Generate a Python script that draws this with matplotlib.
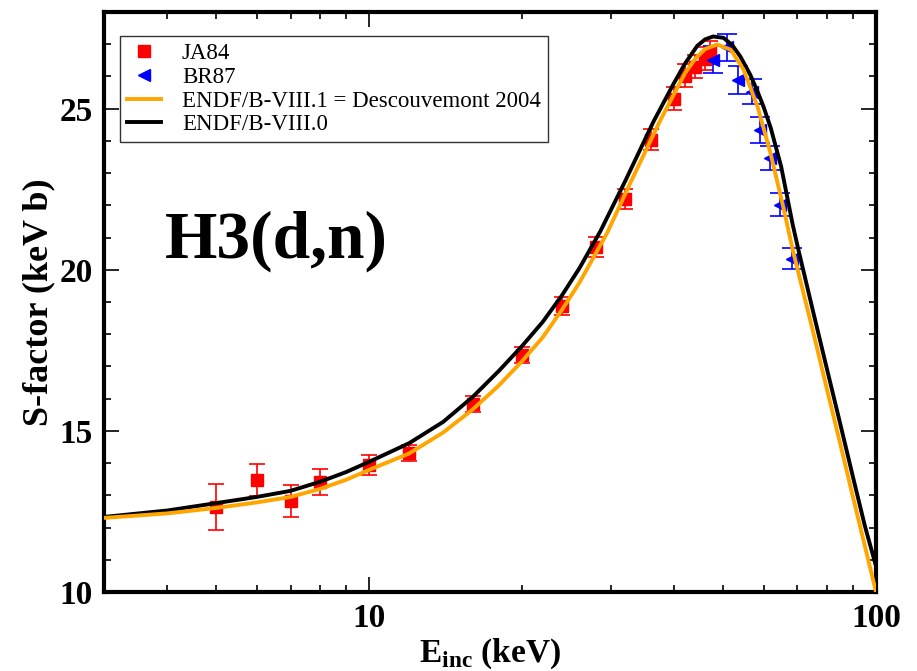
import numpy as np
import matplotlib
matplotlib.use("Agg")
import matplotlib.pyplot as plt
import matplotlib.ticker as mticker
from matplotlib.lines import Line2D

# JA84 data (E in keV, S-factor in keV b, error)
ja84_e = [5, 6, 7, 8, 10, 12, 16, 20, 24, 28, 32, 36, 40, 42, 44, 46, 47]
ja84_s = [12.64, 13.48, 12.83, 13.42, 13.94, 14.32, 15.84, 17.36, 18.88, 20.71,
          22.2, 24.04, 25.31, 26.02, 26.3, 26.55, 26.74]
ja84_err = [0.7, 0.5, 0.5, 0.4, 0.3, 0.25, 0.25, 0.25, 0.28, 0.31,
            0.31, 0.33, 0.36, 0.36, 0.36, 0.36, 0.36]

# BR87 data
br87_e = [47.8, 50.9, 53.5, 57.0, 59.1, 61.8, 64.7, 68.4]
br87_s = [26.52, 26.9, 25.9, 25.53, 24.35, 23.48, 22.02, 20.34]
br87_err = [0.42, 0.42, 0.43, 0.4, 0.4, 0.37, 0.35, 0.33]

# ENDF/B-VIII.1 (Descouvemont 2004) curve
endf81_e = [3.0, 4.0, 5.0, 6.0, 7.0, 8.0, 9.0, 10.0, 12.0, 14.0, 16.0, 18.0,
            20.0, 22.0, 24.0, 26.0, 29.5, 33.0, 37.6, 39.8, 42.0, 44.0, 46.0,
            48.6, 51.7, 54.8, 58.4, 61.9, 65.6, 68.5, 75.0, 80.0, 85.0, 90.0,
            95.0, 100.0]
endf81_s = [12.30, 12.44, 12.61, 12.78, 12.95, 13.2, 13.48, 13.79, 14.3, 14.95,
            15.66, 16.4, 17.15, 17.9, 18.75, 19.6, 21.15, 22.8, 24.66, 25.4,
            26.1, 26.55, 26.85, 26.99, 26.83, 26.21, 25.06, 23.63, 21.96, 20.62,
            18.13, 16.3, 14.6, 12.97, 11.45, 10.0]

# ENDF/B-VIII.0 curve
endf80_e = [3.0, 4.0, 5.0, 6.0, 7.0, 8.0, 9.0, 10.0, 12.0, 14.0, 16.0, 18.0,
            20.0, 22.0, 24.0, 26.0, 28.6, 32.0, 36.4, 39.8, 42.0, 44.4, 46.0,
            47.7, 50.0, 52.0, 54.0, 56.5, 58.5, 60.0, 62.0, 65.0, 68.5, 70.3,
            75.0, 80.0, 85.0, 90.0, 95.0, 100.0]
endf80_s = [12.33, 12.53, 12.76, 12.95, 13.14, 13.42, 13.72, 14.04, 14.62, 15.28,
            16.05, 16.85, 17.62, 18.38, 19.2, 20.05, 21.2, 22.75, 24.6, 25.75,
            26.4, 26.95, 27.15, 27.24, 27.2, 26.98, 26.62, 26.05, 25.5, 25.06,
            24.4, 23.2, 21.4, 20.62, 18.76, 16.93, 15.22, 13.59, 12.07, 10.8]

plt.rcParams['font.family'] = ['Liberation Serif', 'DejaVu Serif']
plt.rcParams['mathtext.fontset'] = 'custom'
plt.rcParams['mathtext.rm'] = 'Liberation Serif'
plt.rcParams['mathtext.bf'] = 'Liberation Serif:bold'

fig = plt.figure(figsize=(9.17, 6.71), dpi=100)
ax = fig.add_axes([0.1134, 0.1177, 0.8419, 0.8644])

ax.errorbar(ja84_e, ja84_s, yerr=ja84_err, fmt='s', color='red', ms=9,
            ecolor='red', elinewidth=1.2, capsize=6, capthick=1.2, zorder=2)
ax.errorbar(br87_e, br87_s, yerr=br87_err, fmt='<', color='blue', ms=8,
            ecolor='blue', elinewidth=1.2, capsize=7, capthick=1.2, zorder=2)
ax.plot(endf81_e, endf81_s, color='#FFA500', lw=2.8, zorder=4)
ax.plot(endf80_e, endf80_s, color='black', lw=2.8, zorder=3)

ax.set_xscale('log')
ax.set_xlim(3, 100)
ax.set_ylim(10, 28)

ax.xaxis.set_major_locator(mticker.FixedLocator([10, 100]))
ax.xaxis.set_major_formatter(mticker.FixedFormatter(['10', '100']))
ax.xaxis.set_minor_locator(mticker.LogLocator(base=10, subs=np.arange(2, 10)))
ax.xaxis.set_minor_formatter(mticker.NullFormatter())
ax.yaxis.set_major_locator(mticker.MultipleLocator(5))
ax.yaxis.set_minor_locator(mticker.MultipleLocator(1))

ax.tick_params(which='both', direction='in', top=True, right=True, width=1.2)
ax.tick_params(which='major', length=11, labelsize=24, pad=8)
ax.tick_params(which='minor', length=5)
for lab in ax.get_xticklabels() + ax.get_yticklabels():
    lab.set_fontweight('bold')
for sp in ax.spines.values():
    sp.set_linewidth(3)

ax.set_xlabel(r'E$_{\mathbf{inc}}$ (keV)', fontsize=24, fontweight='bold', labelpad=2)
ax.set_ylabel('S-factor (keV b)', fontsize=26, fontweight='bold', labelpad=3)

ax.text(0.079, 0.576, 'H3(d,n)', transform=ax.transAxes, fontsize=48.5,
        fontweight='bold', va='baseline', ha='left')

handles = [Line2D([], [], ls='none', marker='s', color='red', ms=9),
           Line2D([], [], ls='none', marker='<', color='blue', ms=8),
           Line2D([], [], color='#FFA500', lw=2.8),
           Line2D([], [], color='black', lw=2.8)]
leg = ax.legend(handles,
                ['JA84', 'BR87', 'ENDF/B-VIII.1 = Descouvemont 2004', 'ENDF/B-VIII.0'],
                loc='upper left', bbox_to_anchor=(0.0207, 0.9586), borderaxespad=0,
                fontsize=16.5, frameon=True, fancybox=False, edgecolor='black',
                handlelength=1.5, handletextpad=0.9, labelspacing=0.12,
                borderpad=0.3)
leg.get_frame().set_linewidth(1.0)

fig.savefig('out.png', dpi=100)
